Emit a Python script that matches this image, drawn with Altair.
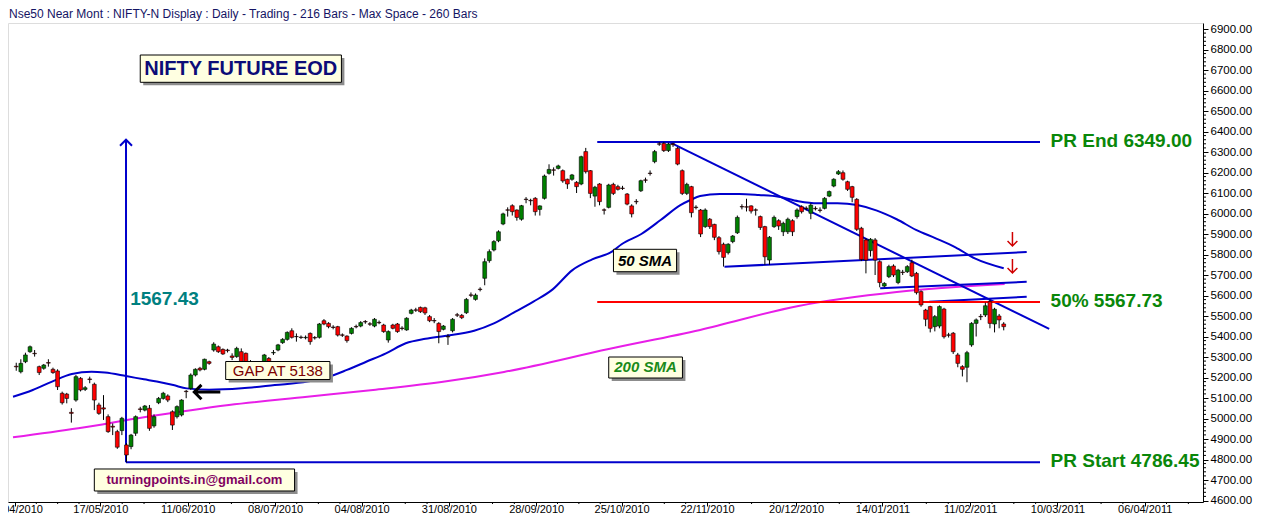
import json
import altair as alt
import pandas as pd

# ---------------- data ----------------
OPEN = [5255,5228,5277,5326,5318,5253,5245,5273,5240,5232,5123,5119,5030,5090,5196,5142,5193,5167,5066,5052,
        5009,4962,4936,4941,4871,4863,4928,5047,5041,5050,4964,5077,5098,5110,5033,5009,5017,5133,5147,5212,
        5245,5240,5277,5334,5350,5337,5334,5305,5302,5326,5318,5263,5255,5252,5245,5293,5320,5334,5370,5386,
        5428,5400,5397,5394,5415,5395,5396,5477,5464,5446,5448,5408,5402,5415,5449,5451,5473,5462,5451,5469,
        5456,5383,5456,5461,5441,5432,5513,5530,5542,5540,5497,5478,5464,5435,5400,5428,5506,5503,5516,5603,
        5581,5631,5684,5770,5822,5867,5949,6018,6038,6017,5972,6070,6064,6074,6020,6074,6196,6213,6220,6209,
        6167,6167,6152,6144,6302,6209,6085,6144,6018,6030,6142,6131,6124,6095,6037,6059,6111,6164,6197,6253,
        6340,6342,6307,6340,6318,6209,6098,6131,6031,6017,5936,5972,5947,5882,5850,5809,5863,5906,6034,6033,
        6037,6018,5985,5936,5773,5936,5965,5911,5911,5965,5985,6033,6026,6001,6025,6017,6025,6085,6134,6193,
        6199,6155,6131,6069,5928,5871,5819,5871,5765,5646,5692,5744,5663,5714,5716,5760,5708,5619,5529,5546,
        5448,5451,5534,5408,5416,5310,5253,5250,5359,5464,5498,5505,5570,5461,5500,5461]
HIGH = [5272,5289,5321,5356,5334,5258,5266,5289,5248,5240,5131,5125,5050,5212,5202,5158,5204,5175,5077,5114,
        5020,4976,4945,5008,4880,4925,5015,5057,5066,5066,5020,5105,5130,5118,5040,5064,5094,5139,5220,5245,
        5252,5292,5282,5372,5356,5342,5340,5318,5350,5342,5322,5285,5268,5265,5315,5300,5334,5364,5392,5425,
        5440,5415,5405,5405,5420,5402,5466,5485,5470,5455,5452,5415,5406,5445,5458,5475,5480,5470,5490,5478,
        5462,5430,5462,5466,5450,5494,5535,5540,5546,5545,5505,5490,5470,5456,5412,5490,5515,5510,5588,5615,
        5610,5640,5781,5825,5870,5918,6004,6030,6045,6020,6042,6080,6072,6080,6040,6190,6240,6225,6238,6215,
        6170,6193,6158,6282,6320,6212,6135,6148,6025,6145,6150,6140,6135,6100,6045,6070,6165,6175,6210,6310,
        6348,6349,6345,6345,6325,6215,6150,6135,6040,6022,6025,5978,5950,5890,5858,5855,5895,5990,6045,6072,
        6040,6025,5990,5940,5890,5990,5972,5960,5980,5972,6025,6040,6035,6050,6035,6030,6080,6112,6172,6212,
        6210,6160,6135,6075,5935,5880,5880,5880,5772,5665,5750,5752,5730,5725,5748,5775,5715,5625,5535,5550,
        5505,5552,5540,5418,5422,5320,5260,5330,5470,5488,5510,5565,5580,5540,5510,5470]
LOW = [5233,5220,5270,5320,5302,5212,5238,5253,5218,5139,5068,5074,4980,5082,5132,5134,5172,5041,5018,4993,
       4930,4919,4852,4919,4786,4850,4915,5030,5035,4940,4955,5070,5092,5080,4944,5000,5010,5099,5140,5205,
       5230,5235,5262,5326,5320,5310,5322,5285,5296,5261,5230,5237,5237,5240,5238,5232,5310,5328,5364,5380,
       5390,5375,5388,5386,5360,5385,5390,5455,5440,5435,5400,5398,5370,5410,5440,5445,5462,5452,5445,5460,
       5418,5370,5435,5418,5430,5428,5508,5520,5515,5505,5470,5465,5367,5430,5359,5420,5495,5485,5510,5592,
       5575,5620,5650,5760,5815,5860,5943,5985,5990,5965,5965,6050,6040,5990,5990,6068,6190,6185,6215,6150,
       6120,6160,6100,6138,6195,6075,6033,6040,5995,6025,6090,6112,6115,6040,5981,6045,6105,6150,6185,6245,
       6330,6300,6300,6325,6235,6090,6090,5981,6020,5885,5930,5925,5870,5800,5741,5800,5855,5900,6020,6010,
       6000,5990,5920,5750,5750,5930,5920,5890,5900,5890,5975,6000,6015,5972,6015,6005,6020,6080,6128,6188,
       6160,6110,6055,5915,5768,5708,5790,5700,5640,5640,5685,5690,5655,5700,5710,5690,5605,5545,5450,5420,
       5425,5440,5390,5395,5315,5250,5205,5177,5350,5400,5480,5495,5440,5420,5440,5430]
CLOSE = [5252,5269,5310,5350,5316,5224,5261,5270,5224,5155,5077,5098,5025,5204,5139,5150,5190,5090,5025,5046,
         4936,4958,4860,5001,4822,4919,5009,5044,5061,4952,5009,5098,5123,5090,4968,5058,5090,5131,5212,5240,
         5237,5289,5269,5363,5326,5315,5331,5298,5342,5269,5253,5261,5253,5254,5310,5245,5322,5359,5386,5420,
         5396,5399,5395,5396,5375,5393,5461,5461,5448,5444,5407,5406,5380,5440,5447,5468,5471,5460,5484,5467,
         5424,5424,5440,5424,5439,5489,5529,5528,5521,5515,5477,5476,5424,5451,5398,5484,5504,5492,5581,5601,
         5602,5629,5765,5814,5863,5911,5998,6016,6009,5981,6038,6068,6062,6009,6037,6183,6215,6211,6232,6159,
         6144,6188,6131,6277,6204,6098,6128,6058,6016,6139,6098,6118,6122,6046,5998,6057,6160,6162,6195,6302,
         6338,6307,6339,6336,6241,6098,6142,6004,6029,5900,6017,5936,5884,5814,5786,5850,5890,5981,6032,6031,
         6012,6016,5932,5789,5884,5981,5939,5952,5972,5911,6017,6009,6024,6041,6023,6015,6074,6107,6167,6204,
         6167,6118,6079,5923,5776,5773,5874,5773,5663,5659,5741,5700,5724,5712,5741,5695,5614,5554,5484,5440,
         5497,5546,5399,5406,5326,5269,5240,5321,5464,5481,5496,5550,5464,5533,5481,5448]

SMA50_BAR = [-0.7, 3.6, 7.8, 12.1, 16.4, 19.3, 23.9, 27.8, 30.6, 34.2, 37.1, 42, 49.1, 56.3, 63.4, 67.7, 72,
             76.2, 80.5, 84.8, 89.1, 93.3, 99.7, 104, 108.3, 112.6, 116.8, 121.1, 125.4, 129.7, 131.8, 136.1,
             140.3, 144.6, 146.8, 148.9, 153.2, 157.4, 161.7, 166, 170.3, 174.5, 178.8, 183.1, 187.4, 191.7,
             195.9, 200.2, 204.5, 208.7, 215]
SMA50_VAL = [5106, 5139, 5180, 5217, 5228, 5224, 5207, 5191, 5180, 5163, 5147, 5140, 5147, 5163, 5180, 5201,
             5237, 5277, 5318, 5367, 5389, 5403, 5428, 5464, 5516, 5570, 5630, 5724, 5776, 5814, 5850, 5900,
             5968, 6041, 6066, 6085, 6095, 6095, 6090, 6082, 6060, 6050, 6050, 6041, 6014, 5972, 5920, 5879,
             5835, 5781, 5733]

SMA200_BAR = [-0.7, 13.5, 27.8, 46.3, 63.4, 77.7, 93.3, 106.2, 129, 148.9, 170.3, 191.7, 215.2]
SMA200_VAL = [4908, 4952, 5006, 5066, 5106, 5139, 5180, 5227, 5339, 5432, 5549, 5617, 5656]

TICK_POS = [-0.28, 18.31, 37.34, 56.36, 75.2, 94.2, 113.2, 131.8, 150.4, 169.8, 188.6, 207.7, 226.7, 245.7]
TICK_LABELS = ["19/04/2010", "17/05/2010", "11/06/2010", "08/07/2010", "04/08/2010", "31/08/2010",
               "28/09/2010", "25/10/2010", "22/11/2010", "20/12/2010", "14/01/2011", "11/02/2011",
               "10/03/2011", "06/04/2011"]

PR_START = 4786.45
PR_END = 6349.00
HALF = 5567.73

HEADER = "Nse50 Near Mont : NIFTY-N Display :  Daily  - Trading - 216 Bars -  Max Space - 260 Bars"

# ---------------- chart ----------------
W, H = 1195, 479
XDOM = [-0.705, 257.3]
YDOM = [4592.7, 6929.3]
FONT = "Liberation Sans"

xs = alt.Scale(domain=XDOM, nice=False, zero=False)
ys = alt.Scale(domain=YDOM, nice=False, zero=False)

label_expr = f"{json.dumps(TICK_LABELS)}[indexof({json.dumps(TICK_POS)}, datum.value)]"
x_axis = alt.Axis(values=TICK_POS, labelExpr=label_expr, title=None, grid=False, tickSize=4,
                  tickColor="black", domainColor="black", labelColor="black", labelFont=FONT,
                  labelFontSize=11, labelFlush=False, labelOverlap=False, labelPadding=-3,
                  labelBaseline="top")
y_axis = alt.Axis(orient="right", values=list(range(4600, 7000, 100)), format=".2f", title=None,
                  grid=False, tickSize=5, tickColor="black", domainColor="black", labelColor="black",
                  labelFont=FONT, labelFontSize=11.5, labelPadding=2, labelOverlap=False)


def X(f):
    return alt.X(f, type="quantitative", scale=xs, axis=x_axis)


def Y(f):
    return alt.Y(f, type="quantitative", scale=ys, axis=y_axis)


df = pd.DataFrame({"bar": list(range(len(OPEN))), "open": OPEN, "high": HIGH, "low": LOW, "close": CLOSE})
df["lo"] = df[["open", "close"]].min(axis=1)
df["hi"] = df[["open", "close"]].max(axis=1)
df["dir"] = ["up" if c >= o else "down" for o, c in zip(df["open"], df["close"])]

wicks = alt.Chart(df).mark_rule(color="black", strokeWidth=1).encode(x=X("bar"), y=Y("low"), y2="high")
bodies = alt.Chart(df).mark_bar(size=3.8, stroke="black", strokeWidth=0.6).encode(
    x=X("bar"), y=Y("lo"), y2="hi",
    color=alt.Color("dir:N", scale=alt.Scale(domain=["up", "down"], range=["#008000", "#ff0000"]), legend=None))

sma50 = alt.Chart(pd.DataFrame({"bar": SMA50_BAR, "v": SMA50_VAL})).mark_line(
    color="#0000cc", strokeWidth=2, interpolate="monotone").encode(x=X("bar"), y=Y("v"))
sma200 = alt.Chart(pd.DataFrame({"bar": SMA200_BAR, "v": SMA200_VAL})).mark_line(
    color="#e81ee8", strokeWidth=2, interpolate="monotone").encode(x=X("bar"), y=Y("v"))

segs = pd.DataFrame([
    {"x1": 126.5, "y1": PR_END, "x2": 222.9, "y2": PR_END, "c": "#0000cc"},
    {"x1": 23.9, "y1": PR_START, "x2": 222.9, "y2": PR_START, "c": "#0000cc"},
    {"x1": 23.9, "y1": PR_START, "x2": 23.9, "y2": 6360, "c": "#0000cc"},
    {"x1": 142.1, "y1": PR_END, "x2": 224.9, "y2": 5437, "c": "#0000cc"},
    {"x1": 154.2, "y1": 5740, "x2": 220, "y2": 5812, "c": "#0000cc"},
    {"x1": 188.1, "y1": 5635, "x2": 220, "y2": 5667, "c": "#0000cc"},
    {"x1": 198.8, "y1": 5570, "x2": 220, "y2": 5594, "c": "#0000cc"},
    {"x1": 126.5, "y1": HALF, "x2": 222.9, "y2": HALF, "c": "#ff0000"},
])
lines = alt.Chart(segs).mark_rule(strokeWidth=2).encode(
    x=X("x1"), y=Y("y1"), x2="x2", y2="y2", color=alt.Color("c:N", scale=None))

# axis minor ticks (derived from the major tick positions / price grid)
minor_x = []
for a, b in zip(TICK_POS[:-1], TICK_POS[1:]):
    minor_x += [a + (b - a) * k / 4 for k in (1, 2, 3)]
minor_x += [TICK_POS[-1] + (TICK_POS[-1] - TICK_POS[-2]) * k / 4 for k in (1, 2)]
xminor = alt.Chart(pd.DataFrame({"m": minor_x})).mark_rule(color="black", strokeWidth=1).encode(
    x=X("m"), y=alt.value(H), y2=alt.value(H + 2))
minor_y = [v for v in range(4600, 6920, 20) if v % 100 != 0]
yminor = alt.Chart(pd.DataFrame({"m": minor_y})).mark_rule(color="black", strokeWidth=1).encode(
    y=Y("m"), x=alt.value(W), x2=alt.value(W + 3))


def boxed(b1, b2, p1, p2, fill="#ffffe1"):
    d = pd.DataFrame({"b1": [b1], "b2": [b2], "p1": [p1], "p2": [p2],
                      "sb1": [b1 + 0.65], "sb2": [b2 + 0.65], "sp1": [p1 - 14.6], "sp2": [p2 - 14.6]})
    shadow = alt.Chart(d).mark_rect(color="#8c8c8c").encode(x=X("sb1"), x2="sb2", y=Y("sp1"), y2="sp2")
    box = alt.Chart(d).mark_rect(fill=fill, stroke="black", strokeWidth=1).encode(
        x=X("b1"), x2="b2", y=Y("p1"), y2="p2")
    return [shadow, box]


def label(b, p, text, color, size, weight="bold", style="normal", align="left"):
    d = pd.DataFrame({"b": [b], "p": [p], "t": [text]})
    return alt.Chart(d).mark_text(align=align, baseline="middle", color=color, fontSize=size,
                                  fontWeight=weight, fontStyle=style, font=FONT).encode(
        x=X("b"), y=Y("p"), text="t:N")


def symbol(b, p, path, color, size, width):
    d = pd.DataFrame({"b": [b], "p": [p]})
    return alt.Chart(d).mark_point(shape=path, filled=False, color=color, size=size,
                                   strokeWidth=width, opacity=1).encode(x=X("b"), y=Y("p"))


layers = [xminor, yminor, sma200, sma50, lines, wicks, bodies]
layers += boxed(27.0, 70.8, 6773.2, 6640.0)
layers.append(label(48.9, 6706, "NIFTY FUTURE EOD", "#0c0c78", 20, align="center"))
layers += boxed(45.6, 68.3, 5278.1, 5190.3)
layers.append(label(56.95, 5234, "GAP AT 5138", "#7a0000", 15, weight="normal", align="center"))
layers += boxed(130.03, 143.77, 5825.4, 5716.1)
layers.append(label(136.9, 5770, "50 SMA", "black", 15, style="italic", align="center"))
layers += boxed(129.0, 145.05, 5300, 5197.5)
layers.append(label(137.0, 5249, "200 SMA", "#1a8a1a", 15, style="italic", align="center"))
layers += boxed(17.0, 60.6, 4753.7, 4646.4)
layers.append(label(38.8, 4700, "turningpoints.in@gmail.com", "#800060", 13, align="center"))
layers.append(label(24.8, 5583, "1567.43", "#008080", 19))
layers.append(label(225.2, 6353.7, "PR End 6349.00", "#0a870a", 19))
layers.append(label(225.2, 5573, "50% 5567.73", "#0a870a", 19))
layers.append(label(225.2, 4792.7, "PR Start 4786.45", "#0a870a", 19))
layers.append(symbol(216.9, 5876, "M0,-1L0,1M-0.7,0.3L0,1L0.7,0.3", "#d00000", 196, 1.5))
layers.append(symbol(216.9, 5744, "M0,-1L0,1M-0.7,0.3L0,1L0.7,0.3", "#d00000", 196, 1.5))
layers.append(symbol(23.9, 6360, "M-0.8,0.8L0,0L0.8,0.8", "#0000cc", 225, 2))
layers.append(symbol(41.6, 5129, "M1,0L-1,0M-0.45,-0.55L-1,0L-0.45,0.55", "black", 676, 3))

header = alt.Chart(pd.DataFrame({"t": [HEADER]})).mark_text(
    align="left", baseline="top", fontSize=12, color="#141464", font=FONT).encode(
    x=alt.value(1), y=alt.value(-14), text="t:N")
layers.append(header)

chart = alt.layer(*layers).properties(
    width=W, height=H,
    autosize=alt.AutoSizeParams(type="none"),
    padding={"left": 0, "top": 15, "right": 57, "bottom": 14},
).configure_view(stroke="#a0a0a0", strokeWidth=1).configure(background="white")

chart.save("out.html", embed_options={"renderer": "svg", "actions": False})
